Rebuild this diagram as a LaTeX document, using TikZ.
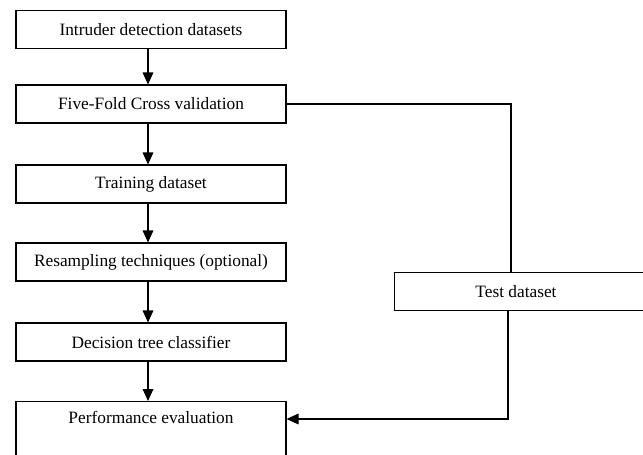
\documentclass[tikz,border=0pt]{standalone}
\usepackage{fontspec}
\setmainfont{Liberation Serif}
\usetikzlibrary{arrows.meta}
\newlength\pxu
\setlength\pxu{0.75pt}
\tikzset{
  stagebox/.style={draw=black, line width=0.8pt, minimum width=270\pxu, minimum height=38\pxu, inner sep=0pt, font=\fontsize{13pt}{15pt}\selectfont},
  stagetext/.style={font=\fontsize{13pt}{15pt}\selectfont, inner sep=0pt},
  flowarrow/.style={line width=0.8pt, -{Triangle[length=9pt, width=8pt]}},
  flowline/.style={line width=0.8pt}
}

\begin{document}
\begin{tikzpicture}[x=\pxu, y=-\pxu]
			%%%%% START %%%%%
			
			\clip (0, 0) rectangle (643, 454);
			
			\node[stagebox] (datasets) at (151, 29.5) {Intruder detection datasets};
			\node[stagebox] (crossval) at (151, 104) {Five-Fold Cross validation};
			\node[stagebox] (training) at (151, 184) {Training dataset};
			\node[stagebox] (resample) at (151, 262) {Resampling techniques (optional)};
			\node[stagebox] (dtree) at (151, 342) {Decision tree classifier};
			\node[stagebox, minimum height=72\pxu, anchor=north] (perf) at (151, 401) {};
			\node[stagetext] (perflabel) at (151, 417) {Performance evaluation};
			\node[stagebox, anchor=west] (testset) at (394, 291.5) {};
			\node[stagetext] (testlabel) at (516, 291.5) {Test dataset};
			
			\coordinate (splitbend) at (511, 104);
			\coordinate (joinbend) at (508, 419);
			
			\draw[flowarrow] ([xshift=-3\pxu]datasets.south) -- ([xshift=-3\pxu]crossval.north);
			\draw[flowarrow] ([xshift=-3\pxu]crossval.south) -- ([xshift=-3\pxu]training.north);
			\draw[flowarrow] ([xshift=-3\pxu]training.south) -- ([xshift=-3\pxu]resample.north);
			\draw[flowarrow] ([xshift=-3\pxu]resample.south) -- ([xshift=-3\pxu]dtree.north);
			\draw[flowarrow] ([xshift=-3\pxu]dtree.south) -- ([xshift=-3\pxu]perf.north);
			
			\draw[flowline] (crossval.east) -- (splitbend) -- (splitbend |- testset.north);
			\draw[flowarrow] (joinbend |- testset.south) -- (joinbend) -- (joinbend -| perf.east);
			
			%%%%% END %%%%%
\end{tikzpicture}
\end{document}
